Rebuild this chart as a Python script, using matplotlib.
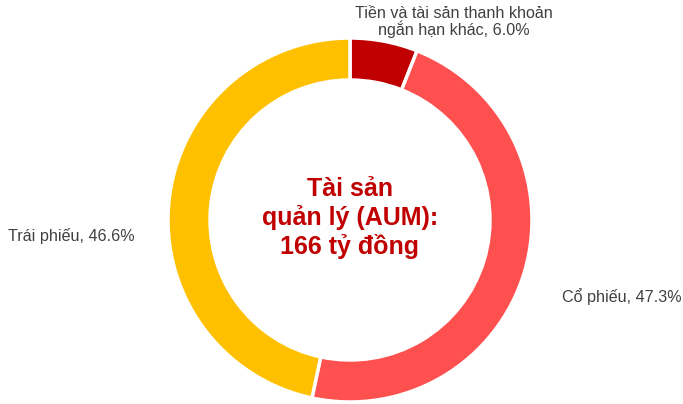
import matplotlib.pyplot as plt

labels = ["Tiền và tài sản thanh khoản\nngắn hạn khác", "Cổ phiếu", "Trái phiếu"]
shares = [6.0, 47.3, 46.6]
colors = ["#C00000", "#FF5050", "#FFC000"]
center_text = "Tài sản\nquản lý (AUM):\n166 tỷ đồng"

plt.rcParams["font.family"] = ["Liberation Sans", "DejaVu Sans"]

W, H = 683, 404
fig = plt.figure(figsize=(W / 100, H / 100), dpi=100)
ax = fig.add_axes([0, 0, 1, 1])

cx, cy, r = 350, H - 220, 182
ax.pie(shares, colors=colors, startangle=90, counterclock=False,
       center=(cx, cy), radius=r, frame=True,
       wedgeprops=dict(width=42, edgecolor="white", linewidth=2.5))
ax.set_xlim(0, W)
ax.set_ylim(0, H)
ax.set_aspect("equal")
ax.axis("off")

ax.text(cx, cy + 2, center_text, ha="center", va="center", fontsize=18,
        fontweight="bold", color="#C00000", linespacing=1.22)

txt = dict(fontsize=11.6, color="#404040")
ax.text(454, H - 22, f"{labels[0]}, {shares[0]:.1f}%", ha="center",
        va="center", linespacing=1.0, **txt)
ax.text(562, H - 297, f"{labels[1]}, {shares[1]:.1f}%", ha="left",
        va="center", **txt)
ax.text(8, H - 236, f"{labels[2]}, {shares[2]:.1f}%", ha="left",
        va="center", **txt)

fig.savefig("out.png", dpi=100)
